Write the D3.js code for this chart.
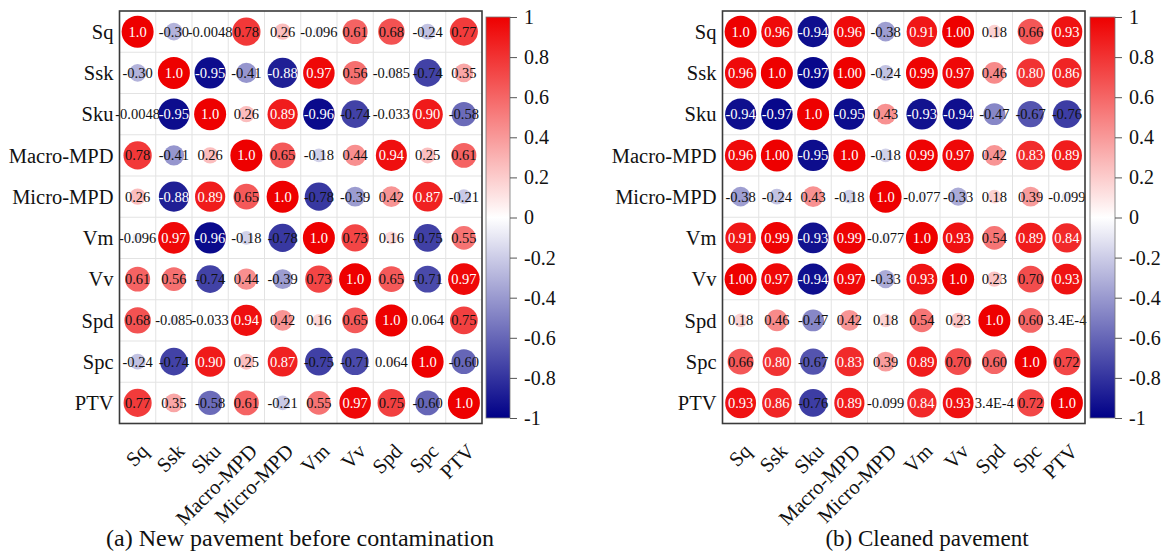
<!DOCTYPE html>
<html>
<head>
<meta charset="utf-8">
<script src="https://cdn.jsdelivr.net/npm/d3@7"></script>
<style>
html,body{margin:0;padding:0;background:#fff;}
svg{display:block;font-family:"Liberation Serif","Times New Roman",serif;}
</style>
</head>
<body>
<svg id="chart" width="1162" height="553"></svg>
<script>
const variables = ["Sq","Ssk","Sku","Macro-MPD","Micro-MPD","Vm","Vv","Spd","Spc","PTV"];

const matrixA = [
  ["1.0","-0.30","-0.0048","0.78","0.26","-0.096","0.61","0.68","-0.24","0.77"],
  ["-0.30","1.0","-0.95","-0.41","-0.88","0.97","0.56","-0.085","-0.74","0.35"],
  ["-0.0048","-0.95","1.0","0.26","0.89","-0.96","-0.74","-0.033","0.90","-0.58"],
  ["0.78","-0.41","0.26","1.0","0.65","-0.18","0.44","0.94","0.25","0.61"],
  ["0.26","-0.88","0.89","0.65","1.0","-0.78","-0.39","0.42","0.87","-0.21"],
  ["-0.096","0.97","-0.96","-0.18","-0.78","1.0","0.73","0.16","-0.75","0.55"],
  ["0.61","0.56","-0.74","0.44","-0.39","0.73","1.0","0.65","-0.71","0.97"],
  ["0.68","-0.085","-0.033","0.94","0.42","0.16","0.65","1.0","0.064","0.75"],
  ["-0.24","-0.74","0.90","0.25","0.87","-0.75","-0.71","0.064","1.0","-0.60"],
  ["0.77","0.35","-0.58","0.61","-0.21","0.55","0.97","0.75","-0.60","1.0"]
];

const matrixB = [
  ["1.0","0.96","-0.94","0.96","-0.38","0.91","1.00","0.18","0.66","0.93"],
  ["0.96","1.0","-0.97","1.00","-0.24","0.99","0.97","0.46","0.80","0.86"],
  ["-0.94","-0.97","1.0","-0.95","0.43","-0.93","-0.94","-0.47","-0.67","-0.76"],
  ["0.96","1.00","-0.95","1.0","-0.18","0.99","0.97","0.42","0.83","0.89"],
  ["-0.38","-0.24","0.43","-0.18","1.0","-0.077","-0.33","0.18","0.39","-0.099"],
  ["0.91","0.99","-0.93","0.99","-0.077","1.0","0.93","0.54","0.89","0.84"],
  ["1.00","0.97","-0.94","0.97","-0.33","0.93","1.0","0.23","0.70","0.93"],
  ["0.18","0.46","-0.47","0.42","0.18","0.54","0.23","1.0","0.60","3.4E-4"],
  ["0.66","0.80","-0.67","0.83","0.39","0.89","0.70","0.60","1.0","0.72"],
  ["0.93","0.86","-0.76","0.89","-0.099","0.84","0.93","3.4E-4","0.72","1.0"]
];

const colorbarTicks = [1,0.8,0.6,0.4,0.2,0,-0.2,-0.4,-0.6,-0.8,-1];
const captions = ["(a) New pavement before contamination","(b) Cleaned pavement"];

const svg = d3.select("#chart");
const color = d3.scaleLinear().domain([-1,0,1]).range(["rgb(0,0,135)","#ffffff","rgb(238,0,0)"]);

const defs = svg.append("defs");
const grad = defs.append("linearGradient").attr("id","cbgrad")
  .attr("x1","0").attr("y1","1").attr("x2","0").attr("y2","0");
d3.range(-1,1.0001,0.1).forEach(v=>{
  grad.append("stop").attr("offset",((v+1)/2*100)+"%").attr("stop-color",color(v));
});

function drawPanel(cfg, matrix, caption){
  const g = svg.append("g");
  const x = d3.scaleBand().domain(variables).range([cfg.x0,cfg.x1]);
  const y = d3.scaleBand().domain(variables).range([cfg.y0,cfg.y1]);
  const rmax = 16;
  const rScale = d3.scaleSqrt().domain([0,1]).range([0,rmax]);

  // grid
  g.append("g").selectAll("line.v").data(variables.slice(1)).join("line")
    .attr("x1",d=>x(d)).attr("x2",d=>x(d)).attr("y1",cfg.y0).attr("y2",cfg.y1)
    .attr("stroke","#e3e3e3").attr("stroke-width",1);
  g.append("g").selectAll("line.h").data(variables.slice(1)).join("line")
    .attr("y1",d=>y(d)).attr("y2",d=>y(d)).attr("x1",cfg.x0).attr("x2",cfg.x1)
    .attr("stroke","#e3e3e3").attr("stroke-width",1);

  const cells = [];
  matrix.forEach((row,i)=>row.forEach((s,j)=>cells.push({row:variables[i],col:variables[j],txt:s,v:+s})));

  g.append("g").selectAll("circle").data(cells).join("circle")
    .attr("cx",d=>x(d.col)+x.bandwidth()/2)
    .attr("cy",d=>y(d.row)+y.bandwidth()/2)
    .attr("r",d=>rScale(Math.abs(d.v)))
    .attr("fill",d=>color(d.v));

  g.append("g").selectAll("text").data(cells).join("text")
    .attr("x",d=>x(d.col)+x.bandwidth()/2)
    .attr("y",d=>y(d.row)+y.bandwidth()/2)
    .attr("dy","0.35em")
    .attr("text-anchor","middle")
    .attr("font-size",14.5)
    .attr("fill",d=>Math.abs(d.v)>=0.79?"#ffffff":"#111")
    .text(d=>d.txt);

  // frame
  g.append("rect").attr("x",cfg.x0).attr("y",cfg.y0)
    .attr("width",cfg.x1-cfg.x0).attr("height",cfg.y1-cfg.y0)
    .attr("fill","none").attr("stroke","#3a3a3a").attr("stroke-width",1.6);

  // row labels
  g.append("g").selectAll("text").data(variables).join("text")
    .attr("x",cfg.x0-6).attr("y",d=>y(d)+y.bandwidth()/2)
    .attr("dy","0.35em").attr("text-anchor","end")
    .attr("font-size",20.5).attr("fill","#111").text(d=>d);

  // column labels
  g.append("g").selectAll("text").data(variables).join("text")
    .attr("transform",d=>`translate(${x(d)+x.bandwidth()/2+12},${cfg.y1+29}) rotate(-45)`)
    .attr("text-anchor","end")
    .attr("font-size",20.5).attr("fill","#111").text(d=>d);

  // colorbar
  const cb = svg.append("g");
  const cy = d3.scaleLinear().domain([-1,1]).range([cfg.cbBottom,cfg.cbTop]);
  cb.append("rect").attr("x",cfg.cbX).attr("y",cfg.cbTop)
    .attr("width",cfg.cbW).attr("height",cfg.cbBottom-cfg.cbTop)
    .attr("fill","url(#cbgrad)").attr("stroke","#777").attr("stroke-width",0.8);
  const axis = d3.axisRight(cy).tickValues(colorbarTicks)
    .tickSize(7).tickPadding(7)
    .tickFormat(d=>String(Math.round(d*10)/10));
  const ag = cb.append("g").attr("transform",`translate(${cfg.cbX+cfg.cbW},0)`).call(axis);
  ag.select(".domain").remove();
  ag.selectAll(".tick line").attr("stroke","#555");
  ag.selectAll(".tick text").attr("font-size",20).attr("fill","#111")
    .attr("font-family","'Liberation Serif','Times New Roman',serif");

  svg.append("text").attr("x",cfg.capX).attr("y",546).attr("text-anchor","middle")
    .attr("font-size",cfg.capSize).attr("fill","#111").text(caption);
}

drawPanel({x0:119.5,x1:482,y0:11,y1:423.5,cbX:486,cbW:24,cbTop:17,cbBottom:418,capX:300,capSize:24}, matrixA, captions[0]);
drawPanel({x0:722.5,x1:1085,y0:11,y1:423.5,cbX:1090,cbW:25,cbTop:17,cbBottom:418,capX:927,capSize:23}, matrixB, captions[1]);
</script>
</body>
</html>
